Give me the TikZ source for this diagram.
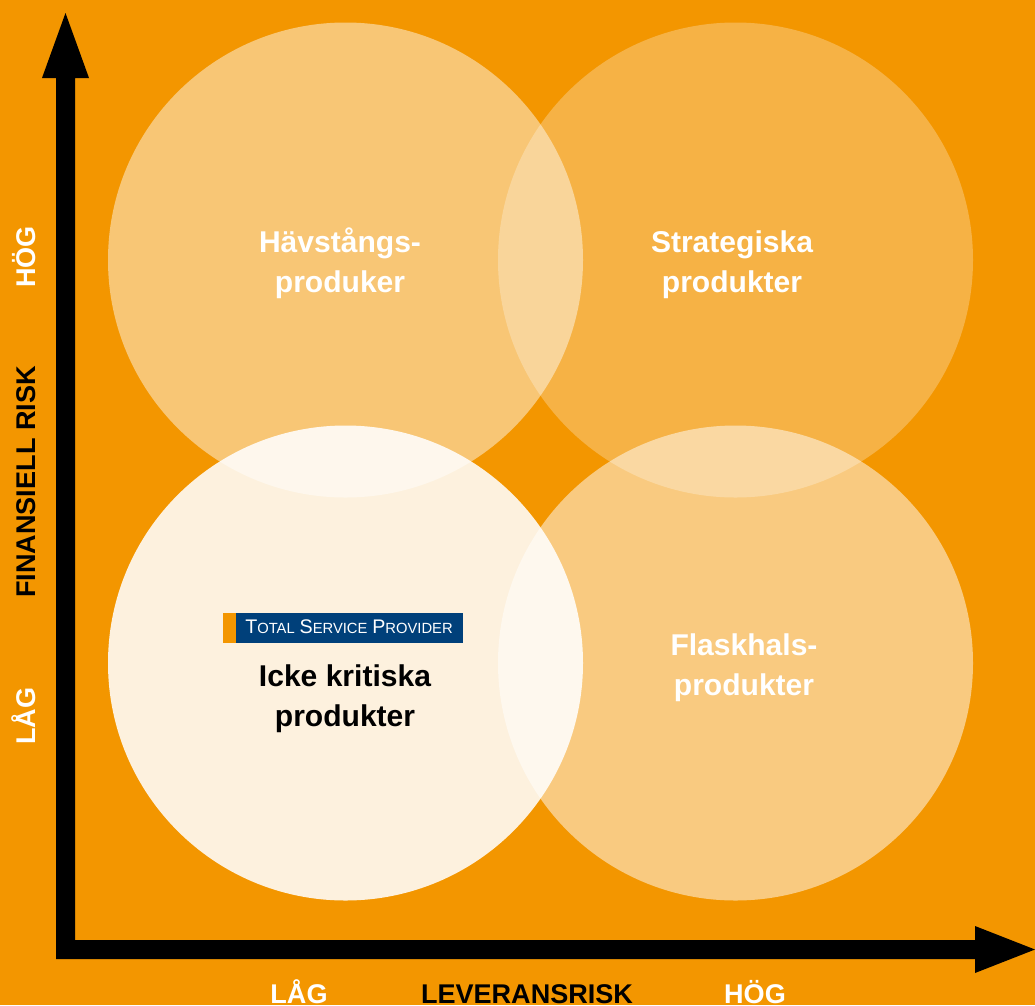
\documentclass[tikz,border=0pt]{standalone}
\usepackage{fontspec}
\setmainfont{Liberation Sans}
\usetikzlibrary{positioning}
\definecolor{bgorange}{RGB}{243,150,0}
\definecolor{tspblue}{RGB}{0,64,122}
\newcommand{\labelcolor}{white}
\newcommand{\tspcap}[2]{{\fontsize{11.2}{12}\selectfont #1}{\fontsize{8.4}{10}\selectfont #2}}
\tikzstyle{every node}=[inner sep=0, outer sep=0]
\tikzstyle{fieldname}=[font=\bfseries\fontsize{17.1}{22.5}\selectfont, align=center, anchor=base]
\tikzstyle{axisname}=[font=\bfseries\fontsize{15.4}{18}\selectfont, anchor=base]

\begin{document}
\begin{tikzpicture}[x=0.02cm, y=-0.02cm]
    \useasboundingbox (0, 0) rectangle (1035, 1005);
    \fill[bgorange] (0, 0) rectangle (1035, 1005);
    % the four fields
    \fill[white, fill opacity=.46] (345.5, 260) circle (237.5);
    \fill[white, fill opacity=.27] (735.5, 260) circle (237.5);
    \fill[white, fill opacity=.87] (345.5, 663) circle (237.5);
    \fill[white, fill opacity=.50] (735.5, 663) circle (237.5);
    % axes
    \fill[black] (56, 959) -- (56, 78) -- (42, 78) -- (65.5, 13) -- (89, 78) -- (75, 78)
        -- (75, 940) -- (975, 940) -- (975, 926) -- (1035, 949.5) -- (975, 973)
        -- (975, 959) -- cycle;
    % logo
    \fill[bgorange] (223, 613) rectangle (236, 643);
    \fill[tspblue] (236, 613) rectangle (463, 643);
    \node[\labelcolor, anchor=base] (logo) at (349, 633)
        {\tspcap{T}{OTAL} \tspcap{S}{ERVICE} \tspcap{P}{ROVIDER}};
    % field names (base = last line)
    \node[fieldname, \labelcolor] (lever) at (340, 292.5) {Hävstångs-\\produker};
    \node[fieldname, \labelcolor] (strat) at (732, 292.5) {Strategiska\\produkter};
    \node[fieldname, \labelcolor] (bottle) at (744, 695) {Flaskhals-\\produkter};
    \node[fieldname, black] (noncrit) at (345, 726) {Icke kritiska\\produkter};
    % axis names
    \node[axisname, \labelcolor, rotate=90] (yhigh) at (35, 257) {HÖG};
    \node[axisname, black, rotate=90] (yname) at (35, 482) {FINANSIELL RISK};
    \node[axisname, \labelcolor, rotate=90] (ylow) at (35, 716) {LÅG};
    \node[axisname, \labelcolor] (xlow) at (299, 1003) {LÅG};
    \node[axisname, black] (xname) at (527, 1003) {LEVERANSRISK};
    \node[axisname, \labelcolor] (xhigh) at (755, 1003) {HÖG};
\end{tikzpicture}
\end{document}
